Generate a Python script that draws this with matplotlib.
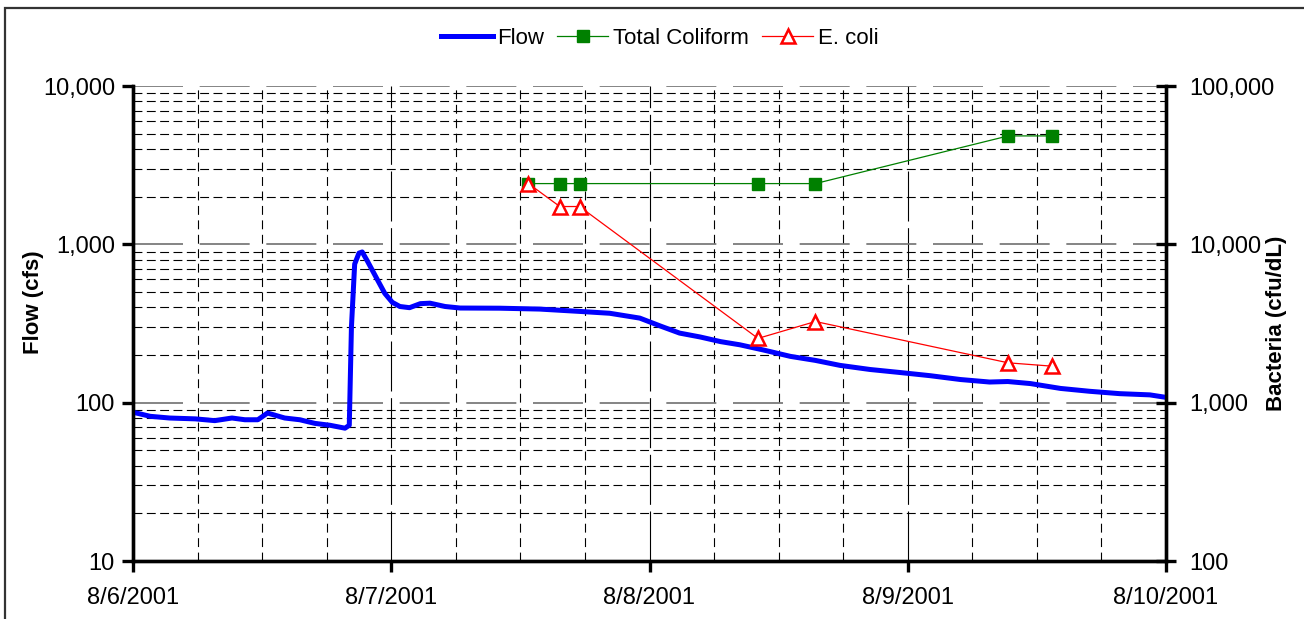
import matplotlib
matplotlib.use("Agg")
import matplotlib.pyplot as plt
import matplotlib.dates as mdates
from matplotlib.ticker import FuncFormatter, LogLocator, NullFormatter
from matplotlib.patches import Rectangle
import pandas as pd

plt.rcParams["font.family"] = ["Liberation Sans", "DejaVu Sans"]

start = pd.Timestamp("2001-08-06")

# flow record (hours after 8/6/2001 00:00, cfs)
flow_hours = [0, 1.6, 3.4, 5.8, 7.6, 9.2, 10.4, 11.6, 12.5, 14.1, 15.5, 16.9, 18.3,
              19.7, 20.1, 20.3, 20.6, 21.0, 21.3, 21.8, 22.7, 23.4, 24.1, 24.8,
              25.7, 26.7, 27.6, 29.0, 30.4, 34.1, 37.8, 41.5, 44.3, 47.1, 49.0,
              50.8, 52.7, 54.6, 56.4, 58.6, 61.1, 63.4, 65.7, 68.5, 71.3, 74.1,
              76.9, 79.6, 81.3, 83.4, 86.2, 88.9, 91.7, 94.5, 96.0]
flow_cfs = [87, 82, 80, 79, 77, 80, 78, 78, 86, 80, 78, 74, 72,
            69, 72, 300, 750, 880, 895, 780, 600, 490, 430, 405,
            398, 422, 425, 405, 396, 395, 390, 377, 367, 342, 305,
            275, 260, 243, 232, 215, 196, 185, 172, 162, 155, 148,
            140, 135, 136, 132, 123, 118, 114, 112, 108]

# bacteria samples
sample_times = ["2001-08-07 12:45", "2001-08-07 15:40", "2001-08-07 17:30",
                "2001-08-08 10:05", "2001-08-08 15:25", "2001-08-09 09:20",
                "2001-08-09 13:25"]
total_coliform = [24192, 24192, 24192, 24192, 24192, 48392, 48392]
e_coli = [24192, 17329, 17329, 2546, 3255, 1785, 1700]

flow_t = start + pd.to_timedelta(flow_hours, unit="h")
samp_t = pd.to_datetime(sample_times)

fig = plt.figure(figsize=(13.04, 6.19), dpi=100)
ax = fig.add_axes([133 / 1304, 1 - 561 / 619, (1166 - 133) / 1304, (561 - 86) / 619])
ax2 = ax.twinx()

fig.patches.append(Rectangle((5 / 1304, -0.05), 1.1, 1 - 8 / 619 + 0.05,
                             transform=fig.transFigure, fill=False,
                             edgecolor="#333333", linewidth=1.6))

ln_flow, = ax.plot(flow_t, flow_cfs, color="#0000FF", lw=3.6, label="Flow",
                   solid_joinstyle="round", zorder=3)
ln_tc, = ax2.plot(samp_t, total_coliform, color="#008000", lw=0.9, marker="s",
                  ms=8, mfc="#008000", mec="#008000", label="Total Coliform")
ln_ec, = ax2.plot(samp_t, e_coli, color="#FF0000", lw=0.9, marker="^",
                  ms=10, mfc="white", mec="#FF0000", mew=1.8, label="E. coli")

ax.set_yscale("log")
ax.set_ylim(10, 10000)
ax2.set_yscale("log")
ax2.set_ylim(100, 100000)
ax.set_xlim(start, start + pd.Timedelta(days=4))

fmt = FuncFormatter(lambda v, p: f"{v:,.0f}")
for a in (ax, ax2):
    a.yaxis.set_major_locator(LogLocator(base=10, numticks=10))
    a.yaxis.set_major_formatter(fmt)
    a.yaxis.set_minor_locator(LogLocator(base=10, subs=range(2, 10), numticks=20))
    a.yaxis.set_minor_formatter(NullFormatter())
    for s in a.spines.values():
        s.set_linewidth(2.4)
    a.spines["top"].set_visible(False)

ax.xaxis.set_major_locator(mdates.DayLocator())
ax.xaxis.set_minor_locator(mdates.HourLocator(byhour=[6, 12, 18]))
ax.xaxis.set_major_formatter(FuncFormatter(
    lambda v, p: "{d.month}/{d.day}/{d.year}".format(d=mdates.num2date(v))))

ax.tick_params(axis="y", which="major", direction="out", length=8, width=2.4,
               labelsize=17, pad=5)
ax.tick_params(axis="x", which="major", direction="out", length=8, width=2.4,
               labelsize=17, pad=11)
ax.tick_params(which="minor", length=0)
ax2.tick_params(axis="y", which="major", direction="inout", length=14, width=2.4,
                labelsize=17, pad=10)
ax2.tick_params(which="minor", length=0)

# grid
ax.grid(True, axis="y", which="major", color="#707070", lw=1.2, dashes=(30, 10))
ax.grid(True, axis="y", which="minor", color="black", lw=0.8, dashes=(8, 4))
ax.grid(True, axis="x", which="major", color="black", lw=0.8, dashes=(45, 6))
ax.grid(True, axis="x", which="minor", color="black", lw=0.8, dashes=(8, 5))
ax.set_axisbelow(True)

ax.set_ylabel("Flow (cfs)", fontsize=16, fontweight="bold")
ax.yaxis.set_label_coords(-0.086, 0.545)
ax2.set_ylabel("Bacteria (cfu/dL)", fontsize=16, fontweight="bold")
ax2.yaxis.set_label_coords(1.097, 0.5)

fig.legend(handles=[ln_flow, ln_tc, ln_ec], loc="center",
           bbox_to_anchor=(0.506, 1 - 38 / 619), ncol=3, frameon=False,
           fontsize=16, handlelength=2.3, handletextpad=0.2, columnspacing=0.6)

fig.savefig("out.png", dpi=100)
